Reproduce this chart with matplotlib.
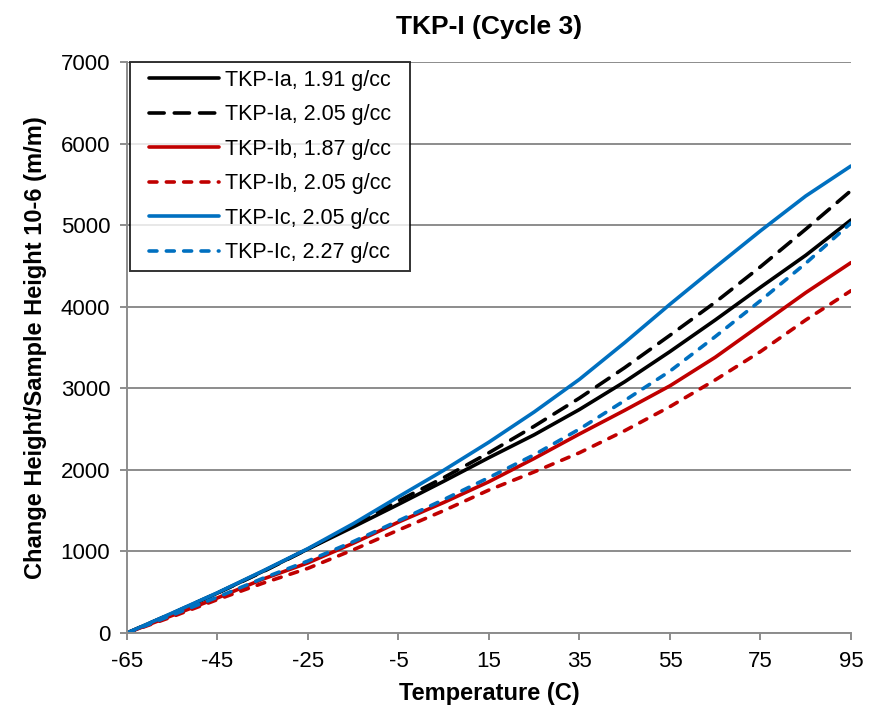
import matplotlib
matplotlib.use("Agg")
import matplotlib.pyplot as plt
from matplotlib.lines import Line2D
from matplotlib.legend_handler import HandlerLine2D

plt.rcParams['font.family'] = ['Liberation Sans', 'DejaVu Sans']
plt.rcParams['axes.unicode_minus'] = False

temperatura = [-65, -55, -45, -35, -25, -15, -5, 5, 15, 25, 35, 45, 55, 65, 75, 85, 95]

ia_191 = [0, 240, 490, 755, 1030, 1300, 1577, 1860, 2150, 2430, 2740, 3080, 3450, 3837, 4238, 4630, 5063]
ia_205 = [0, 240, 490, 750, 1030, 1320, 1620, 1905, 2210, 2535, 2880, 3253, 3650, 4054, 4490, 4950, 5423]
ib_187 = [0, 215, 430, 660, 860, 1100, 1360, 1600, 1855, 2140, 2440, 2730, 3030, 3380, 3776, 4172, 4540]
ib_205 = [0, 200, 410, 610, 793, 1020, 1262, 1500, 1753, 1975, 2210, 2480, 2775, 3102, 3450, 3837, 4196]
ic_205 = [0, 245, 494, 760, 1035, 1340, 1670, 1995, 2340, 2710, 3110, 3560, 4030, 4483, 4930, 5357, 5725]
ic_227 = [0, 220, 440, 670, 883, 1120, 1376, 1635, 1906, 2185, 2500, 2850, 3210, 3633, 4074, 4532, 5026]

series = [
    ("TKP-Ia, 1.91 g/cc", ia_191, "black", None),
    ("TKP-Ia, 2.05 g/cc", ia_205, "black", (0, (4.2, 2.8))),
    ("TKP-Ib, 1.87 g/cc", ib_187, "#C00000", None),
    ("TKP-Ib, 2.05 g/cc", ib_205, "#C00000", (0, (2.2, 2.6))),
    ("TKP-Ic, 2.05 g/cc", ic_205, "#0070C0", None),
    ("TKP-Ic, 2.27 g/cc", ic_227, "#0070C0", (0, (2.2, 2.6))),
]

fig = plt.figure(figsize=(8.8, 7.11), dpi=100)
ax = fig.add_axes([0.1443, 0.1097, 0.8227, 0.8031])

for nombre, valores, color, estilo in series:
    linea, = ax.plot(temperatura, valores, color=color, linewidth=2.6,
                     label=nombre, solid_capstyle="round")
    if estilo is not None:
        linea.set_linestyle(estilo)
        linea.set_dash_capstyle("round")

ax.set_xlim(-65, 95)
ax.set_ylim(0, 7000)
ax.set_xticks(range(-65, 96, 20))
ax.set_yticks(range(0, 7001, 1000))
ax.grid(axis="y", color="#8c8c8c", linewidth=1.4)
ax.set_axisbelow(True)

for lado in ["top", "right"]:
    ax.spines[lado].set_visible(False)
for lado in ["left", "bottom"]:
    ax.spines[lado].set_color("#8c8c8c")
    ax.spines[lado].set_linewidth(1.4)

ax.tick_params(axis="both", direction="out", length=5, width=1.4,
               color="#8c8c8c", labelsize=16, labelcolor="black")
ax.tick_params(axis="x", pad=8)
ax.tick_params(axis="y", pad=7)

ax.set_xlabel("Temperature (C)", fontsize=17, fontweight="bold", labelpad=7)
ax.set_ylabel("Change Height/Sample Height 10-6 (m/m)", fontsize=17,
              fontweight="bold", labelpad=10)
ax.set_title("TKP-I (Cycle 3)", fontsize=19, fontweight="bold", pad=20)

# la línea de la leyenda se acorta a ambos lados para dejar margen a la izquierda
leyenda = ax.legend(loc="upper left", bbox_to_anchor=(0.004, 0.0, 0.387, 1.0),
                    mode="expand", fontsize=15.5,
                    numpoints=2, handler_map={Line2D: HandlerLine2D(marker_pad=0.56)},
                    handlelength=4.37, handletextpad=-0.28, labelspacing=0.63,
                    borderpad=0.35, borderaxespad=0.0, frameon=True,
                    fancybox=False)
leyenda.get_frame().set_edgecolor("black")
leyenda.get_frame().set_linewidth(1.4)

plt.savefig("out.png", dpi=100)
plt.close()
